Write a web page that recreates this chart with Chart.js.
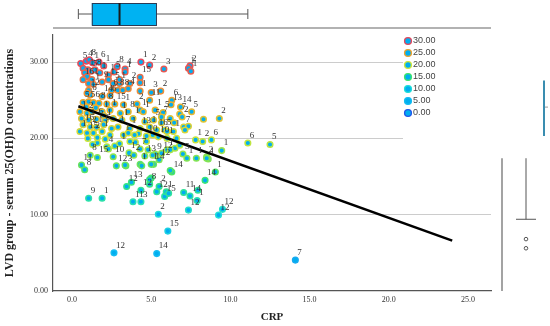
<!DOCTYPE html>
<html>
<head>
<meta charset="utf-8">
<script src="https://cdn.jsdelivr.net/npm/chart.js@4.4.0/dist/chart.umd.min.js"></script>
<style>
	html, body { margin: 0; padding: 0; background: #fff; }
	#wrap { width: 550px; height: 326px; }
</style>
</head>
<body>
<div id="wrap"><canvas id="LvdCrpChart" width="550" height="326"></canvas></div>
<script>

// CRP (x) and LVD serum 25(OH)D (y) per case, with the case label shown next to each point
const crp = [
	0.55, 0.9, 1.1, 1.3, 1.7, 2.0, 2.85, 3.35, 4.35, 4.9, 5.8, 7.45, 7.35,
	0.7, 1.0, 1.2, 0.8, 1.45, 1.75, 2.3, 2.65, 3.35, 7.5, 4.3,
	0.95, 1.25, 0.7, 1.05, 1.35, 1.9, 2.3, 2.6, 3.0, 3.0, 3.65, 4.3,
	1.05, 2.5, 2.9, 3.2, 3.55, 4.3, 1.15, 1.9, 2.4, 0.95, 4.9, 6.3, 5.0, 5.6,
	0.7, 1.05, 1.35, 1.7, 2.2, 2.7, 3.25, 4.1, 6.25, 6.85,
	0.5, 0.95, 1.25, 1.9, 2.4, 3.05, 3.55, 4.3, 4.5, 5.25, 5.75, 6.8, 7.55,
	0.6, 1.05, 1.55, 2.1, 2.6, 3.15, 3.85, 5.15, 5.65, 6.2, 6.95, 8.3, 9.3,
	0.7, 1.15, 1.55, 2.0, 2.5, 2.9, 3.65, 4.3, 4.9, 5.35, 5.85, 6.4, 7.05, 5.65, 6.45, 4.6, 7.35,
	0.5, 0.95, 1.35, 1.9, 2.4, 3.25, 4.2, 4.7, 5.45, 6.0, 6.6, 8.25, 8.8, 11.1, 12.5, 7.8,
	9.45, 8.5, 8.6, 1.15, 2.2, 2.3, 3.6, 5.25, 5.65, 6.0, 6.5, 7.0, 7.25, 7.85, 4.3, 4.0, 3.0, 2.7, 1.6, 1.3,
	0.6, 2.8, 3.4, 4.3, 4.4, 5.15, 6.3, 9.05, 0.8, 1.6, 2.6, 3.9, 4.6, 5.5,
	8.4, 1.05, 1.9, 3.45, 3.75, 4.35, 3.85, 4.35, 4.9, 5.0, 5.35, 5.5, 5.85, 5.95, 6.1, 7.05, 7.45, 7.9,
	7.35, 5.45, 6.05, 2.65, 5.35, 9.25, 9.5, 14.1,
	3.66, 4.7, 4.8, 5.1, 6.2, 6.8, 8.5, 6.2, 5.0, 3.35, 4.9, 7.95,
	3.55, 3.95, 5.1, 6.0, 7.13, 1.0, 1.6, 2.1, 0.9, 1.5, 2.0
]
const lvd = [
	29.8, 30.1, 30.3, 29.9, 30.0, 29.5, 29.4, 29.1, 30.0, 29.6, 29.1, 29.5, 29.2,
	29.2, 29.0, 28.8, 28.6, 29.0, 28.6, 28.3, 28.7, 28.7, 28.8, 28.0,
	28.1, 27.7, 27.7, 27.2, 27.1, 27.4, 27.7, 27.2, 27.2, 27.7, 27.2, 27.3,
	26.3, 26.3, 26.3, 26.3, 26.5, 26.2, 25.7, 25.5, 25.6, 25.9, 25.0, 25.0, 26.0, 26.2,
	24.7, 24.8, 24.7, 24.6, 24.5, 24.5, 24.4, 24.5, 24.4, 24.1,
	23.5, 23.3, 23.5, 23.5, 23.7, 23.3, 23.5, 23.7, 23.5, 23.7, 23.4, 23.2, 23.5,
	22.6, 22.4, 22.5, 22.4, 22.6, 22.4, 22.6, 22.4, 22.8, 22.6, 22.8, 22.5, 22.6,
	21.8, 21.5, 21.45, 21.8, 21.3, 21.5, 21.3, 21.3, 21.5, 21.1, 21.1, 20.9, 21.5, 22.05, 22.05, 22.2, 21.6,
	20.9, 20.7, 20.7, 20.9, 20.45, 20.45, 20.6, 20.3, 20.2, 20.0, 20.0, 19.6, 19.8, 19.4, 19.2, 19.8,
	18.4, 17.6, 17.3, 17.8, 18.9, 18.6, 18.1, 17.95, 18.05, 18.5, 18.7, 17.95, 17.4, 17.4, 18.6, 19.5, 19.3, 19.0, 19.4, 19.2,
	16.5, 16.4, 16.4, 16.6, 16.4, 16.6, 15.6, 15.6, 15.9, 17.5, 17.6, 17.8, 17.7, 17.2,
	14.5, 12.15, 12.15, 13.7, 14.25, 13.2, 11.7, 11.7, 14.0, 14.8, 13.0, 13.7, 12.4, 13.0, 12.8, 12.9, 12.45, 11.85,
	10.6, 10.05, 7.85, 5.0, 4.9, 9.95, 10.7, 4.05,
	19.6, 19.6, 18.5, 17.8, 18.5, 19.1, 17.4, 15.8, 16.6, 16.5, 14.6, 13.2,
	20.7, 20.45, 20.45, 20.9, 21.1, 20.0, 20.1, 19.9, 24.1, 24.0, 23.0
]
const caseLabels = [
	'5', '4', '8', '1', '6', '1', '8', '4', '1', '2', '3', '2', '1',
	'', '1', '5', '', '8', '1', '1', '5', '1', '1', '15',
	'', '1', '16', '', '1', '9', '1', '5', '1', '', '2', '',
	'12', '6', '8', '8', '4', '1', '6', '14', '6', '', '11', '6', '3', '2',
	'5', '5', '6', '8', '8', '15', '1', '2', '13', '14',
	'1', '2', '', '1', '1', '1', '8', '1', '1', '1', '5', '7', '5',
	'', '1', '6', '1', '', '1', '1', '5', '7', '', '2', '', '2',
	'16', '2', '1', '6', '', '1', '1', '13', '1', '16', '5', '1', '7', '', '', '', '',
	'1', '15', '2', '1', '', '1', '', '10', '10', '1', '', '2', '6', '6', '5', '1',
	'1', '2', '1', '8', '4', '', '1', '9', '12', '1', '', '5', '1', '1', '7', '', '1', '', '', '',
	'11', '12', '3', '1', '', '14', '14', '1', '8', '15', '10', '2', '13', '12',
	'14', '9', '1', '12', '13', '12', '11', '3', '8', '', '12', '2', '15', '1', '', '11', '14', '1',
	'12', '2', '15', '12', '14', '12', '12', '7',
	'', '', '', '', '', '', '', '', '1', '', '', '',
	'', '', '', '', '', '', '', '', '', '', ''
]

// fit line end points
const fitCrp = [0.4, 24.0]
const fitLvd = [24.2, 6.6]

// marginal box plots: CRP [low whisker, q1, median, q3, high whisker]
const crpBox = [0.4, 1.25, 3.0, 5.3, 11.1]
const lvdWhisker = [17.4, 9.4]
const lvdOutliers = [6.8, 5.6]
const lvdBoxEdge = [27.6, 20.3, 24.1]

const xTicks = [0, 5, 10, 15, 20, 25]
const yTicks = [0, 10, 20, 30]

const legendLevels = [30, 25, 20, 15, 10, 5, 0]
const legendLabels = ['30.00', '25.00', '20.00', '15.00', '10.00', '5.00', '0.00']
const ringColours = ['#e4485c', '#eea22c', '#cfe53a', '#3ee46a', '#1edfd8', '#14bdf2', '#2157ea']

const pointFill = '#00aef0'

const hexToRgb = function (hex) {
	return [1, 3, 5].map(i => parseInt(hex.substr(i, 2), 16))
}

const ringColour = function (v) {
	// legendLevels run high to low
	if (v >= legendLevels[0]) return ringColours[0]
	for (let i = 0; i < legendLevels.length - 1; i++) {
		const hi = legendLevels[i], lo = legendLevels[i + 1]
		if (v <= hi && v >= lo) {
			const t = (v - lo) / (hi - lo)
			const a = hexToRgb(ringColours[i + 1]), b = hexToRgb(ringColours[i])
			const c = a.map((ch, k) => Math.round(ch + (b[k] - ch) * t))
			return `rgb(${c[0]}, ${c[1]}, ${c[2]})`
		}
	}
	return ringColours[ringColours.length - 1]
}

const serif = "'Liberation Serif', 'DejaVu Serif', serif"

const pointLabels = {
	id: 'pointLabels',
	afterDatasetsDraw(chart) {
		const ctx = chart.ctx
		const meta = chart.getDatasetMeta(1)
		ctx.save()
		ctx.font = `9px ${serif}`
		ctx.fillStyle = '#333'
		ctx.textAlign = 'left'
		ctx.textBaseline = 'bottom'
		meta.data.forEach((pt, i) => {
			if (caseLabels[i]) ctx.fillText(caseLabels[i], pt.x + 2, pt.y - 3)
		})
		ctx.restore()
	}
}

const marginals = {
	id: 'marginals',
	afterDraw(chart) {
		const ctx = chart.ctx
		const xs = chart.scales.x
		const ys = chart.scales.y
		const area = chart.chartArea
		ctx.save()

		// legend panel covers the grid lines
		ctx.fillStyle = '#fff'
		ctx.fillRect(403, area.top, area.right - 403 + 1, 112)
		legendLabels.forEach((lab, i) => {
			const cy = 41 + i * 12
			ctx.beginPath()
			ctx.arc(408, cy, 3.4, 0, Math.PI * 2)
			ctx.fillStyle = pointFill
			ctx.fill()
			ctx.lineWidth = 1.4
			ctx.strokeStyle = ringColours[i]
			ctx.stroke()
			ctx.fillStyle = '#444'
			ctx.font = "9px 'Liberation Sans', Arial, sans-serif"
			ctx.textAlign = 'left'
			ctx.textBaseline = 'middle'
			ctx.fillText(lab, 413, cy)
		})

		// top box plot for CRP
		const bx = crpBox.map(v => xs.getPixelForValue(v))
		const cy = 14
		ctx.strokeStyle = '#555'
		ctx.lineWidth = 1
		ctx.beginPath()
		ctx.moveTo(bx[0], cy); ctx.lineTo(bx[1], cy)
		ctx.moveTo(bx[3], cy); ctx.lineTo(bx[4], cy)
		ctx.moveTo(bx[0], cy - 5); ctx.lineTo(bx[0], cy + 5)
		ctx.moveTo(bx[4], cy - 5); ctx.lineTo(bx[4], cy + 5)
		ctx.stroke()
		ctx.fillStyle = '#00b2f2'
		ctx.fillRect(bx[1], cy - 11, bx[3] - bx[1], 22)
		ctx.strokeStyle = '#2a3a55'
		ctx.strokeRect(bx[1] + 0.5, cy - 11 + 0.5, bx[3] - bx[1], 22)
		ctx.lineWidth = 2
		ctx.strokeStyle = '#1a1a1a'
		ctx.beginPath()
		ctx.moveTo(bx[2], cy - 11); ctx.lineTo(bx[2], cy + 11)
		ctx.stroke()

		// top panel edge
		ctx.lineWidth = 1.2
		ctx.strokeStyle = '#666'
		ctx.beginPath()
		ctx.moveTo(area.left, 28); ctx.lineTo(area.right, 28)
		ctx.stroke()

		// right panel: edge, whisker, outliers, clipped box edge
		const wTop = ys.getPixelForValue(lvdWhisker[0])
		const wLow = ys.getPixelForValue(lvdWhisker[1])
		ctx.beginPath()
		ctx.moveTo(502, wTop); ctx.lineTo(502, area.bottom)
		ctx.stroke()
		ctx.lineWidth = 1
		ctx.strokeStyle = '#555'
		ctx.beginPath()
		ctx.moveTo(526, wTop); ctx.lineTo(526, wLow)
		ctx.moveTo(516, wLow); ctx.lineTo(536, wLow)
		ctx.stroke()
		lvdOutliers.forEach(v => {
			ctx.beginPath()
			ctx.arc(526, ys.getPixelForValue(v), 1.8, 0, Math.PI * 2)
			ctx.stroke()
		})
		ctx.lineWidth = 2
		ctx.strokeStyle = '#3a8db0'
		ctx.beginPath()
		ctx.moveTo(544, ys.getPixelForValue(lvdBoxEdge[0]))
		ctx.lineTo(544, ys.getPixelForValue(lvdBoxEdge[1]))
		ctx.stroke()
		ctx.lineWidth = 1
		ctx.strokeStyle = '#999'
		ctx.beginPath()
		ctx.moveTo(545, ys.getPixelForValue(lvdBoxEdge[2]))
		ctx.lineTo(548, ys.getPixelForValue(lvdBoxEdge[2]))
		ctx.stroke()

		ctx.restore()
	}
}

const data = {
	datasets: [{
		type: 'line',
		label: 'Fit line',
		data: fitCrp.map((x, i) => ({ x: x, y: fitLvd[i] })),
		borderColor: '#000',
		borderWidth: 2.6,
		pointRadius: 0,
		fill: false,
		order: 0
	}, {
		type: 'scatter',
		label: 'LVD group',
		data: crp.map((x, i) => ({ x: x, y: lvd[i] })),
		backgroundColor: pointFill,
		borderColor: ctx => ringColour(ctx.raw ? ctx.raw.y : 0),
		borderWidth: 1.5,
		pointRadius: 2.8,
		order: 1
	}]
};

const config = {
	type: 'scatter',
	data: data,
	options: {
		responsive: false,
		animation: false,
		devicePixelRatio: 1,
		layout: { padding: { top: 35, right: 59, bottom: 0, left: 0 } },
		plugins: {
			legend: { display: false },
			tooltip: { enabled: false }
		},
		scales: {
			x: {
				type: 'linear',
				min: -1.2,
				max: 26.45,
				afterBuildTicks: scale => { scale.ticks = xTicks.map(v => ({ value: v })) },
				afterFit: scale => { scale.height = 35 },
				grid: { display: false, drawTicks: false },
				border: { color: '#555', width: 1.2 },
				ticks: {
					color: '#333',
					font: { family: serif, size: 8 },
					padding: 4,
					maxRotation: 0,
					callback: v => Number(v).toFixed(1)
				},
				title: {
					display: true,
					text: 'CRP',
					color: '#222',
					font: { family: serif, size: 11, weight: 'bold' },
					padding: { top: 0, bottom: 2 }
				}
			},
			y: {
				min: 0,
				max: 33.55,
				afterBuildTicks: scale => { scale.ticks = yTicks.map(v => ({ value: v })) },
				afterFit: scale => { scale.width = 53 },
				grid: {
					drawTicks: false,
					color: c => (c.tick && c.tick.value === 0) ? 'rgba(0,0,0,0)' : '#cccccc',
					lineWidth: 1
				},
				border: { color: '#555', width: 1.2 },
				ticks: {
					color: '#333',
					font: { family: serif, size: 8 },
					padding: 5,
					callback: v => Number(v).toFixed(2)
				},
				title: {
					display: true,
					text: 'LVD group - serum 25(OH)D concentrations',
					color: '#222',
					font: { family: serif, size: 12, weight: 'bold' },
					padding: { top: 3, bottom: 0 }
				}
			}
		}
	},
	plugins: [pointLabels, marginals]
};

const LvdCrpChart = new Chart(
	document.getElementById('LvdCrpChart'),
	config
);

</script>
</body>
</html>
